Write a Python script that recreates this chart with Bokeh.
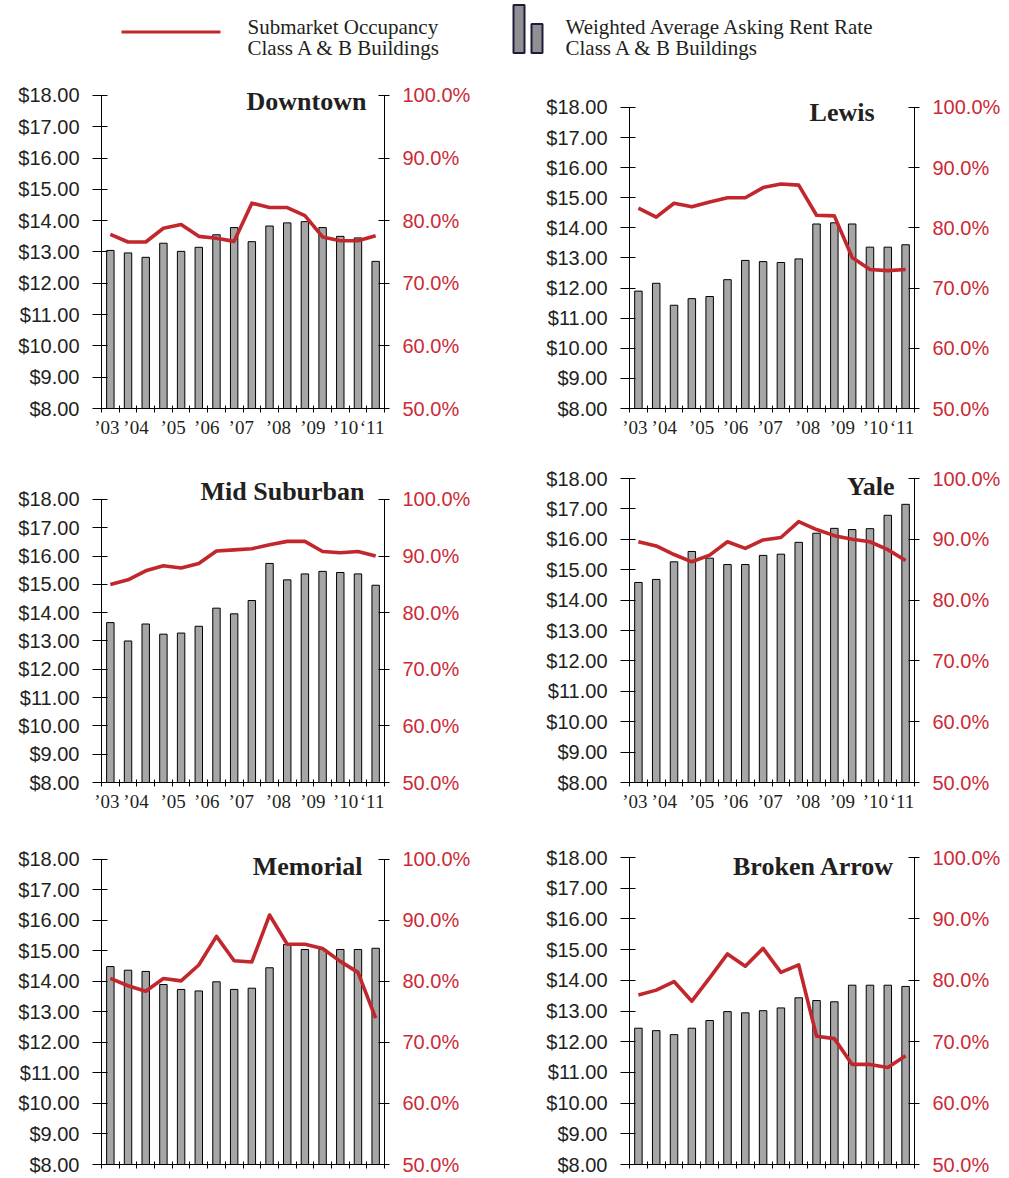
from bokeh.plotting import figure
from bokeh.layouts import column, row
from bokeh.models import Range1d, LinearAxis, FixedTicker, PrintfTickFormatter, Label
from bokeh.core.properties import value
from bokeh.embed import file_html
from bokeh.resources import INLINE

# ---------------- data ----------------
periods = ["2003 H2", "2004 H1", "2004 H2", "2005 H1", "2005 H2", "2006 H1", "2006 H2", "2007 H1",
           "2007 H2", "2008 H1", "2008 H2", "2009 H1", "2009 H2", "2010 H1", "2010 H2", "2011 H1"]
year_labels = ["\u201903", "\u201904", "\u201905", "\u201906", "\u201907", "\u201908", "\u201909", "\u201910", "\u201811"]
year_label_pos = [0.3, 1.95, 4.05, 5.95, 7.9, 10.0, 11.95, 13.8, 15.3]
rent_ticks = [8, 9, 10, 11, 12, 13, 14, 15, 16, 17, 18]
occ_ticks = [50, 60, 70, 80, 90, 100]

downtown_rent = [13.05, 12.97, 12.83, 13.28, 13.02, 13.15, 13.55, 13.78, 13.33, 13.83, 13.93, 13.97, 13.78, 13.50, 13.45, 12.70]
downtown_occ = [77.8, 76.6, 76.6, 78.8, 79.4, 77.5, 77.2, 76.7, 82.8, 82.1, 82.1, 80.8, 77.4, 76.8, 76.8, 77.6]

lewis_rent = [11.90, 12.16, 11.43, 11.65, 11.72, 12.28, 12.92, 12.88, 12.85, 12.97, 14.13, 14.17, 14.13, 13.36, 13.36, 13.44]
lewis_occ = [83.3, 81.8, 84.1, 83.5, 84.3, 85.0, 85.0, 86.7, 87.3, 87.1, 82.1, 82.0, 75.1, 73.1, 72.9, 73.1]

mid_rent = [13.65, 13.00, 13.60, 13.24, 13.28, 13.52, 14.16, 13.96, 14.43, 15.74, 15.16, 15.37, 15.46, 15.42, 15.37, 14.97]
mid_occ = [85.0, 85.8, 87.4, 88.3, 87.9, 88.7, 90.9, 91.1, 91.3, 92.0, 92.6, 92.6, 90.8, 90.6, 90.8, 90.0]

yale_rent = [14.58, 14.68, 15.26, 15.60, 15.38, 15.17, 15.17, 15.47, 15.51, 15.90, 16.20, 16.36, 16.32, 16.35, 16.79, 17.15]
yale_occ = [89.6, 88.9, 87.5, 86.3, 87.4, 89.6, 88.5, 89.9, 90.3, 92.9, 91.6, 90.6, 90.0, 89.6, 88.3, 86.5]

memorial_rent = [14.49, 14.37, 14.33, 13.90, 13.74, 13.69, 13.99, 13.74, 13.78, 14.45, 15.21, 15.05, 15.05, 15.05, 15.05, 15.09]
memorial_occ = [80.5, 79.3, 78.4, 80.5, 80.1, 82.7, 87.4, 83.4, 83.2, 90.9, 86.1, 86.1, 85.4, 83.3, 81.5, 74.0]

broken_arrow_rent = [12.44, 12.36, 12.23, 12.44, 12.69, 12.98, 12.94, 13.01, 13.10, 13.43, 13.34, 13.30, 13.84, 13.84, 13.84, 13.80]
broken_arrow_occ = [77.6, 78.4, 79.8, 76.6, 80.4, 84.3, 82.3, 85.2, 81.3, 82.5, 70.9, 70.5, 66.3, 66.3, 65.8, 67.7]

# ---------------- style ----------------
RED = "#c1272d"
RED_TXT = "#cc2a36"
INK = "#231f20"
BAR = "#a6a6a6"
SANS = "Liberation Sans"
SERIF = "Liberation Serif"

xs = [i + 0.5 for i in range(len(periods))]
bounds = list(range(len(periods) + 1))


def panel(title, rent, occ, w, h, bl, br, bt, bb, ytop, tx, ty, show_years=True):
    # the frame extends a little above $18 so that the panel title has room;
    # the axes are bounded to the real value ranges
    occ_top = 50 + (ytop - 8) * 5
    p = figure(width=w, height=h, x_range=Range1d(0, len(periods)), y_range=Range1d(8, ytop),
               output_backend="svg", toolbar_location=None,
               min_border_left=bl, min_border_right=br, min_border_top=bt, min_border_bottom=bb,
               outline_line_color=None, background_fill_color="white", border_fill_color="white")
    p.extra_y_ranges = {"occ": Range1d(50, occ_top)}
    p.xgrid.visible = False
    p.ygrid.visible = False

    p.vbar(x=xs, top=rent, bottom=8, width=0.42, fill_color=BAR, line_color="black", line_width=1)
    p.line(x=xs, y=occ, y_range_name="occ", line_color=RED, line_width=3.6, line_join="round")

    ya = p.yaxis[0]
    ya.bounds = (8, 18)
    ya.ticker = FixedTicker(ticks=rent_ticks)
    ya.formatter = PrintfTickFormatter(format="$%.2f")
    ya.major_tick_in = 6
    ya.major_tick_out = 9
    ya.minor_tick_line_color = None
    ya.axis_line_color = "black"
    ya.major_tick_line_color = "black"
    ya.major_label_text_font = SANS
    ya.major_label_text_font_size = "20px"
    ya.major_label_text_color = INK
    ya.major_label_standoff = 13

    ra = LinearAxis(y_range_name="occ", ticker=FixedTicker(ticks=occ_ticks),
                    formatter=PrintfTickFormatter(format="%.1f%%"), bounds=(50, 100))
    ra.major_tick_in = 6
    ra.major_tick_out = 5
    ra.minor_tick_line_color = None
    ra.axis_line_color = "black"
    ra.major_tick_line_color = "black"
    ra.major_label_text_font = SANS
    ra.major_label_text_font_size = "20px"
    ra.major_label_text_color = RED_TXT
    ra.major_label_standoff = 13
    p.add_layout(ra, "right")

    xa = p.xaxis[0]
    if show_years:
        xa.ticker = FixedTicker(ticks=year_label_pos, minor_ticks=bounds)
        xa.major_label_overrides = {pos: lab for pos, lab in zip(year_label_pos, year_labels)}
        xa.major_label_standoff = 4
    else:
        xa.ticker = FixedTicker(ticks=[], minor_ticks=bounds)
        xa.major_label_standoff = 0
    xa.major_tick_in = 0
    xa.major_tick_out = 0
    xa.minor_tick_in = 3
    xa.minor_tick_out = 4
    xa.minor_tick_line_color = "black"
    xa.axis_line_color = "black"
    xa.major_label_text_font = SERIF
    xa.major_label_text_font_size = "19px"
    xa.major_label_text_color = INK

    p.add_layout(Label(x=tx, y=ty, text=title, text_align="right", text_baseline="middle",
                       text_font=SERIF, text_font_style="bold", text_font_size="26px",
                       text_color=INK))
    return p


# ---------------- legend ----------------
leg = figure(width=1009, height=68, x_range=Range1d(0, 1009), y_range=Range1d(68, 0),
             output_backend="svg", toolbar_location=None, x_axis_location=None, y_axis_location=None,
             min_border=0, outline_line_color=None)
leg.xgrid.visible = False
leg.ygrid.visible = False
leg.line(x=[121, 220], y=[31.5, 31.5], line_color=RED, line_width=3)
leg.quad(left=[513, 531], right=[524, 542], top=[4.5, 23.5], bottom=[52.5, 52.5],
         fill_color="#8f8f94", line_color="#1c1c38", line_width=2)
leg.text(x=[247, 247, 565, 565], y=[26, 47, 26, 47],
         text=["Submarket Occupancy", "Class A & B Buildings",
               "Weighted Average Asking Rent Rate", "Class A & B Buildings"],
         text_font=value(SERIF), text_font_size="21px", text_color=INK, text_baseline="alphabetic")

# ---------------- panels ----------------
# row 1: page y 68..450, frame 80..408 ; row 2: 450..825, frame 468..782 ; row 3: 825..1178, frame 845..1164
# left column: page x 0..512, frame 101..384 ; right column: 512..1009, frame 629..914
p1 = panel("Downtown", downtown_rent, downtown_occ, 512, 382, 101, 128, 12, 42, 18.479, 14.98, 17.81)
p2 = panel("Lewis", lewis_rent, lewis_occ, 497, 382, 117, 95, 12, 42, 18.897, 13.76, 17.83)
p3 = panel("Mid Suburban", mid_rent, mid_occ, 512, 375, 101, 128, 18, 43, 19.095, 14.87, 18.28)
p4 = panel("Yale", yale_rent, yale_occ, 497, 375, 117, 95, 18, 43, 18.329, 14.88, 17.74)
p5 = panel("Memorial", memorial_rent, memorial_occ, 512, 353, 101, 128, 20, 14, 18.459, 14.75, 17.77, show_years=False)
p6 = panel("Broken Arrow", broken_arrow_rent, broken_arrow_occ, 497, 353, 117, 95, 20, 14, 18.391, 14.88, 17.71, show_years=False)

layout = column(leg, row(p1, p2), row(p3, p4), row(p5, p6))

open("out.html", "w").write(file_html(layout, INLINE))
